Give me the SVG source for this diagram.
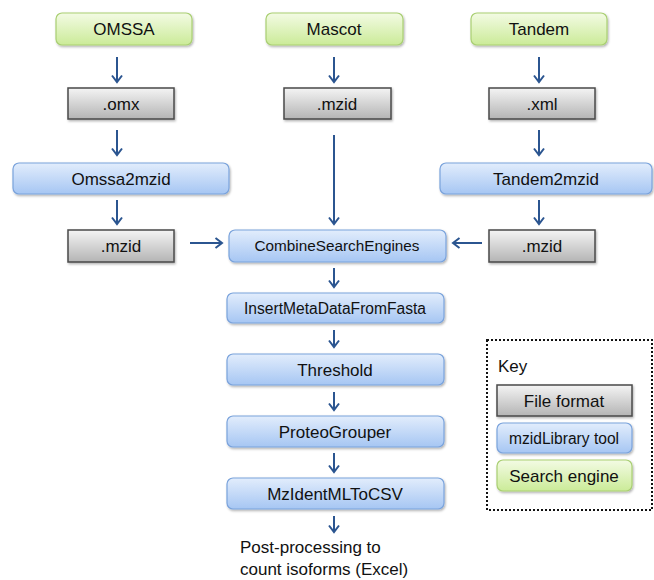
<svg xmlns="http://www.w3.org/2000/svg" width="654" height="580" viewBox="0 0 654 580">
<defs>
<linearGradient id="gGray" x1="0" y1="0" x2="0" y2="1"><stop offset="0" stop-color="#f4f4f4"/><stop offset="1" stop-color="#b4b4b4"/></linearGradient>
<linearGradient id="gBlue" x1="0" y1="0" x2="0" y2="1"><stop offset="0" stop-color="#e2edfc"/><stop offset="1" stop-color="#a6c6f3"/></linearGradient>
<linearGradient id="gGreen" x1="0" y1="0" x2="0" y2="1"><stop offset="0" stop-color="#f3fbe4"/><stop offset="1" stop-color="#cbeb98"/></linearGradient>
<filter id="sh" x="-10%" y="-20%" width="120%" height="150%"><feDropShadow dx="1" dy="1.5" stdDeviation="1" flood-color="#000" flood-opacity="0.3"/></filter>
<marker id="ah" viewBox="-8 -6 10 12" markerWidth="10" markerHeight="12" refX="0" refY="0" orient="auto" markerUnits="userSpaceOnUse"><path d="M-6.5,-5 L0,0 L-6.5,5" fill="none" stroke="#2b5590" stroke-width="2"/></marker>
</defs>
<style>
.t{font-family:"Liberation Sans",Arial,sans-serif;fill:#111;text-anchor:middle}
.gray{fill:url(#gGray);stroke:#4a4a4a;stroke-width:1.5;filter:url(#sh)}
.blue{fill:url(#gBlue);stroke:#7aa3dc;stroke-width:1.2;filter:url(#sh)}
.green{fill:url(#gGreen);stroke:#a9cf72;stroke-width:1.2;filter:url(#sh)}
.c line{stroke:#2b5590;stroke-width:2;marker-end:url(#ah)}
</style>
<rect width="654" height="580" fill="#fff"/>
<g id="omssa"><rect class="green" x="56" y="13" width="136" height="32" rx="6"/><text class="t" x="124" y="35" font-size="17">OMSSA</text></g>
<g id="mascot"><rect class="green" x="266" y="13" width="137" height="32" rx="6"/><text class="t" x="334" y="35" font-size="17">Mascot</text></g>
<g id="tandem"><rect class="green" x="471" y="13" width="136" height="32" rx="6"/><text class="t" x="539" y="35" font-size="17">Tandem</text></g>
<g id="omx"><rect class="gray" x="68" y="88" width="106" height="31"/><text class="t" x="121" y="110" font-size="17">.omx</text></g>
<g id="mascot-mzid"><rect class="gray" x="284" y="88" width="107" height="31"/><text class="t" x="337" y="110" font-size="17">.mzid</text></g>
<g id="xml"><rect class="gray" x="489" y="88" width="106" height="31"/><text class="t" x="542" y="110" font-size="17">.xml</text></g>
<g id="omssa2mzid"><rect class="blue" x="13" y="163" width="216" height="31" rx="6"/><text class="t" x="121" y="185" font-size="17">Omssa2mzid</text></g>
<g id="tandem2mzid"><rect class="blue" x="440" y="163" width="212" height="31" rx="6"/><text class="t" x="546" y="185" font-size="17">Tandem2mzid</text></g>
<g id="left-mzid"><rect class="gray" x="68" y="230" width="106" height="32"/><text class="t" x="121" y="252" font-size="17">.mzid</text></g>
<g id="combine"><rect class="blue" x="229" y="230" width="217" height="32" rx="6"/><text class="t" x="337" y="251" font-size="15.3">CombineSearchEngines</text></g>
<g id="right-mzid"><rect class="gray" x="489" y="230" width="106" height="32"/><text class="t" x="542" y="252" font-size="17">.mzid</text></g>
<g id="insert"><rect class="blue" x="227" y="293" width="217" height="30" rx="6"/><text class="t" x="335" y="314" font-size="15.6">InsertMetaDataFromFasta</text></g>
<g id="threshold"><rect class="blue" x="227" y="354" width="217" height="31" rx="6"/><text class="t" x="335" y="376" font-size="17">Threshold</text></g>
<g id="proteogrouper"><rect class="blue" x="227" y="416" width="217" height="31" rx="6"/><text class="t" x="335" y="438" font-size="17">ProteoGrouper</text></g>
<g id="mzidentmltocsv"><rect class="blue" x="227" y="478" width="217" height="31" rx="6"/><text class="t" x="335" y="500" font-size="17">MzIdentMLToCSV</text></g>
<g id="postprocessing"><text class="t" x="240" y="553" font-size="17" style="text-anchor:start">Post-processing to</text><text class="t" x="240" y="575" font-size="17" style="text-anchor:start">count isoforms (Excel)</text></g>
<g id="key">
<rect x="487" y="340" width="165" height="170" fill="none" stroke="#111" stroke-width="2" stroke-dasharray="2,2"/>
<text class="t" x="498" y="372" font-size="17" style="text-anchor:start">Key</text>
<rect class="gray" x="497" y="385" width="135" height="31"/><text class="t" x="564" y="407" font-size="17">File format</text>
<rect class="blue" x="497" y="423" width="135" height="30" rx="6"/><text class="t" x="564" y="444" font-size="15.6">mzidLibrary tool</text>
<rect class="green" x="497" y="460" width="135" height="31" rx="6"/><text class="t" x="564" y="482" font-size="17">Search engine</text>
</g>
<g id="connectors" class="c">
<line x1="117" y1="57" x2="117" y2="82"/>
<line x1="117" y1="130" x2="117" y2="155"/>
<line x1="117" y1="200" x2="117" y2="224"/>
<line x1="334" y1="57" x2="334" y2="82"/>
<line x1="334" y1="135" x2="334" y2="224"/>
<line x1="539" y1="57" x2="539" y2="82"/>
<line x1="539" y1="130" x2="539" y2="155"/>
<line x1="539" y1="200" x2="539" y2="224"/>
<line x1="190" y1="243" x2="222" y2="243"/>
<line x1="482" y1="243" x2="453" y2="243"/>
<line x1="334" y1="268" x2="334" y2="287"/>
<line x1="334" y1="330" x2="334" y2="347"/>
<line x1="334" y1="392" x2="334" y2="410"/>
<line x1="334" y1="453" x2="334" y2="472"/>
<line x1="334" y1="516" x2="334" y2="532"/>
</g>
</svg>
